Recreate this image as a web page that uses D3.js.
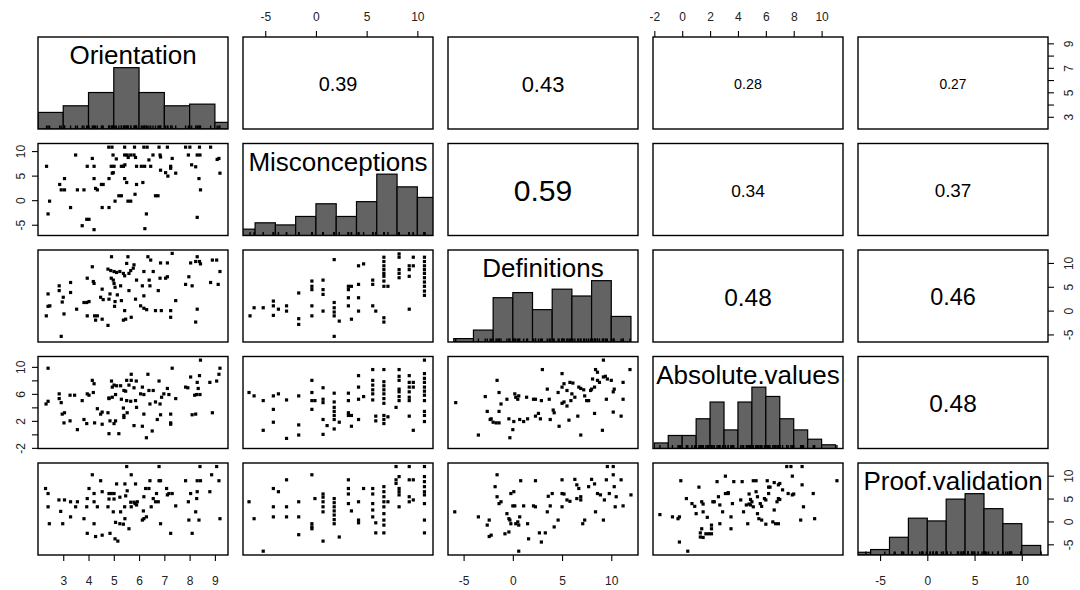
<!DOCTYPE html>
<html><head><meta charset="utf-8">
<script src="https://cdn.jsdelivr.net/npm/d3@7"></script>
<style>body{margin:0;background:#fff}svg{display:block}</style>
</head><body><svg id="c" width="1080" height="590"></svg>
<script>
// ---------------- DATA ----------------
const varNames = ["Orientation","Misconceptions","Definitions","Absolute.values","Proof.validation"];
const varMin = [2.28, -6.5, -5.87, -1.59, -6.59];
const varMax = [9.24, 10.85, 12.0, 11.03, 12.03];
const axisTicks = [[3,4,5,6,7,8,9],[-5,0,5,10],[-5,0,5,10],[-2,0,2,4,6,8,10],[-5,0,5,10]];
const rightLabelsOrientation = [3,5,7,9];
const leftLabelsAbsolute = [-2,2,6,10];
const histBreaks = [
  [2,3,4,5,6,7,8,9,10],
  [-8,-6,-4,-2,0,2,4,6,8,10,12],
  [-6,-4,-2,0,2,4,6,8,10,12],
  [-2,-1,0,1,2,3,4,5,6,7,8,9,10,11],
  [-8,-6,-4,-2,0,2,4,6,8,10,12]
];
const histCounts = [
  [10,14,22,37,22,14,15,4],
  [3,6,5,9,15,9,16,29,23,18],
  [2,7,26,29,19,31,27,36,15],
  [3,7,7,16,25,10,25,33,28,16,10,5,2],
  [2,4,13,27,25,41,45,34,23,7]
];
// upper triangle, row-major: (1,2),(1,3),(1,4),(1,5),(2,3),(2,4),(2,5),(3,4),(3,5),(4,5)
const correlations = [0.39,0.43,0.28,0.27,0.59,0.34,0.37,0.48,0.46,0.48];

const ptsOM = [[4.80,10.8],[4.93,10.8],[5.43,10.8],[5.82,10.8],[6.19,10.8],[6.32,10.8],[6.79,10.8],[7.12,10.8],[7.84,10.8],[8.01,10.8],[8.39,10.8],[8.83,10.8],
[3.49,9.2],[4.97,9.2],[5.43,9.2],[5.53,9.2],[5.67,9.2],[5.80,9.2],[6.55,9.2],[6.83,9.2],[7.95,9.2],[8.30,9.2],[8.41,9.2],
[4.15,8.5],[5.10,8.4],[5.57,8.7],[5.86,8.7],[6.39,8.2],[6.85,8.8],[7.31,8.5],[9.09,8.3],[9.16,8.5],
[2.34,6.9],[3.95,6.9],[4.22,6.9],[4.90,6.9],[5.01,6.9],[5.30,6.9],[5.38,6.9],[5.44,7.2],[5.90,6.9],[6.09,6.9],[6.22,6.9],[6.46,6.9],[7.25,6.9],[8.08,7.2],[8.24,6.8],
[4.94,5.5],[4.98,5.6],[6.85,6.1],[7.05,5.6],[7.14,4.9],[7.25,6.5],[7.45,5.5],[9.20,5.5],
[3.05,4.4],[4.22,4.4],[4.81,4.4],[5.43,4.4],[8.37,4.4],
[2.86,3.2],[4.51,3.2],[4.58,3.2],[5.51,3.6],[5.90,3.2],[6.15,3.6],
[2.92,2.1],[3.05,2.1],[3.56,2.1],[3.82,2.1],[4.28,2.4],[4.35,2.1],[8.43,2.1],
[5.20,0.9],[5.30,0.9],[5.84,1.2],[6.65,0.9],[6.75,0.9],
[2.46,-0.2],[5.05,-0.2],[5.56,-0.2],[5.67,-0.2],
[3.29,-1.5],[4.54,-1.5],[4.81,-1.5],
[2.40,-2.8],[6.29,-2.8],[8.30,-3.5],
[3.93,-3.9],[4.02,-3.9],[3.75,-5.2],[4.22,-6.0],[6.23,-5.8]];

const ptsOD = [[7.31,12.0],
[4.91,11.3],[5.56,11.3],[6.35,11.3],[8.30,11.3],
[6.46,10.6],[6.85,10.0],[7.12,10.0],[8.04,10.0],[8.24,10.3],[8.39,10.3],[8.43,9.8],[8.90,10.6],[9.07,10.6],
[4.15,9.2],[5.51,9.9],[5.80,9.6],[5.77,8.9],
[4.77,8.7],[4.88,8.4],[5.01,8.2],[5.11,8.0],[5.24,8.2],[5.38,7.8],[5.43,7.3],[5.60,7.8],[5.67,8.4],[6.19,8.2],[6.56,8.2],[7.05,6.8],[7.12,7.1],[9.20,8.2],
[3.95,6.8],[4.19,6.1],[4.22,5.7],[4.90,6.8],[4.98,6.4],[5.01,5.7],[5.90,6.4],[6.40,6.4],[6.83,6.8],[7.97,7.1],[8.83,5.9],[9.13,5.5],
[2.84,5.2],[3.29,5.9],[4.54,4.5],[5.05,4.9],[5.27,5.2],[6.13,5.2],[6.43,5.2],[7.84,5.5],[8.10,5.2],
[2.84,4.2],[3.29,3.8],[5.60,4.2],[6.76,4.2],
[2.40,3.5],[3.00,2.8],[4.48,2.8],[4.85,3.5],[5.14,3.3],[6.19,3.1],
[2.96,1.8],[3.82,1.7],[3.93,1.7],[4.02,1.9],[4.58,2.3],[4.81,2.4],[5.05,1.9],[5.30,2.1],[5.86,2.4],[7.45,2.1],
[2.40,0.9],[2.47,1.0],[3.53,0.3],[5.03,0.9],[5.43,0.0],[6.06,1.0],[6.19,0.5],[6.30,0.2],[6.65,0.0],[6.88,0.0],[7.25,0.0],[8.30,0.3],
[2.33,-1.1],[3.03,-0.7],[3.95,-1.1],[4.24,-1.1],[4.35,-1.1],[4.54,-1.8],[4.28,-2.0],[5.47,-1.8],[5.69,-1.4],[7.25,-1.4],
[4.77,-3.1],[5.38,-2.0],[8.24,-2.4],[2.92,-5.4]];

const ptsOA = [[8.43,11.0],
[2.40,9.8],[7.31,9.8],[9.20,9.8],
[5.69,8.9],[6.35,8.9],[8.04,8.5],[8.39,8.7],[9.16,8.9],
[4.15,8.0],[4.22,7.5],[4.91,7.9],[5.51,8.0],[5.69,8.0],[5.89,7.9],[6.79,7.9],[8.30,7.7],[8.80,7.7],[9.07,7.9],
[4.94,7.0],[5.01,7.3],[5.11,7.2],[5.27,7.2],[5.40,6.5],[5.60,7.3],[5.80,6.9],[6.13,7.0],[6.39,6.5],[6.56,6.5],[7.12,6.8],[7.84,7.0],[7.93,6.9],[8.34,6.8],
[2.84,6.0],[3.27,5.8],[3.45,5.8],[3.95,6.0],[4.02,5.8],[4.19,6.2],[4.81,5.4],[4.94,5.5],[5.07,5.9],[5.47,6.4],[6.06,6.0],[6.19,5.9],[6.98,6.0],[7.18,5.9],[6.89,5.5],
[2.32,4.5],[2.40,4.9],[2.84,5.3],[2.92,4.7],[3.75,5.0],[4.81,5.3],[5.30,5.2],[5.51,5.0],[5.67,4.9],[5.86,5.0],[6.43,4.5],[6.65,4.8],[6.83,4.5],[7.45,5.3],[8.20,5.8],[8.28,5.9],[8.41,5.9],
[4.35,3.8],[5.38,3.9],[5.90,4.0],
[2.96,3.0],[3.05,3.2],[4.48,3.0],[4.54,3.3],[4.77,3.2],[5.40,2.8],[5.53,3.2],[6.19,3.0],[6.85,2.9],[7.25,3.0],[8.10,2.9],[8.24,3.0],[8.90,3.2],
[3.03,1.7],[3.27,2.0],[3.82,2.2],[3.93,1.6],[4.24,1.7],[4.54,1.5],[4.85,2.0],[5.01,1.6],[5.07,2.0],[5.40,2.5],[5.80,1.3],[6.13,1.2],[6.72,2.2],[7.25,1.7],[7.25,1.5],
[3.56,0.7],[6.52,0.5],[4.81,0.1],[5.20,0.1],[6.29,-0.5]];

const ptsOP = [[5.51,12.0],[6.79,12.0],[8.41,12.0],[9.07,12.0],
[4.15,10.2],[5.69,10.2],[8.87,10.2],
[4.48,8.9],[5.11,8.2],[5.44,8.2],[5.86,8.2],[6.43,8.9],[6.79,8.9],[6.85,8.9],[7.84,8.9],[8.30,8.9],[8.43,8.9],[9.16,8.9],
[2.30,7.2],[2.40,6.1],[4.02,7.2],[4.22,6.1],[4.54,6.5],[4.81,6.1],[4.90,6.1],[5.01,6.1],[5.53,6.7],[6.26,7.2],[6.39,7.2],[6.69,6.1],[7.09,7.2],[7.18,6.1],[7.31,6.1],[8.04,6.1],[8.30,6.5],[8.80,6.5],
[2.83,4.7],[3.05,4.7],[3.29,4.3],[3.56,4.3],[3.95,5.0],[4.22,4.3],[4.81,4.9],[5.01,4.9],[5.24,5.3],[5.47,5.6],[5.67,4.2],[5.80,4.2],[5.93,4.3],[6.19,5.4],[6.56,5.0],[6.65,4.3],[6.76,4.3],[7.12,5.8],[7.95,4.3],[8.28,5.0],
[2.40,3.2],[2.90,2.2],[3.49,3.2],[3.93,3.2],[4.35,3.2],[4.77,3.2],[4.98,2.1],[5.27,2.1],[5.43,3.2],[5.69,3.2],[5.84,3.9],[5.90,3.6],[6.17,2.3],[6.48,3.2],[7.45,3.4],[8.24,2.1],
[3.29,1.0],[3.82,0.6],[6.13,0.3],[6.19,0.6],[6.29,1.0],[7.97,0.3],[8.37,0.3],[9.20,0.6],
[2.45,-0.5],[2.98,-0.5],[4.22,-0.5],[5.07,-0.2],[5.24,-0.5],[5.38,-0.6],[6.85,-0.5],
[5.60,-1.6],[5.44,0.6],
[3.95,-2.6],[4.28,-3.3],[4.54,-3.0],[4.85,-2.6],[7.25,-2.6],[8.10,-2.6],[5.05,-3.8],[5.16,-4.3]];

const ptsMD = [[1.8,10.7],[4.2,9.4],[4.7,9.8],
[6.7,11.2],[6.7,10.3],[6.7,9.4],[6.7,8.6],[6.7,7.8],
[8.2,11.9],[8.2,11.2],[8.2,8.6],[8.2,7.8],[8.2,6.9],
[9.2,9.4],[9.2,8.6],[9.2,7.2],[9.6,11.2],[9.6,9.4],
[10.7,11.2],[10.7,10.3],[10.7,9.4],[10.7,8.6],[10.7,7.8],[10.7,6.9],[10.7,6.0],[10.7,5.1],[10.7,4.1],[10.7,3.2],
[-0.4,6.2],[0.7,6.4],[6.7,7.2],[6.7,6.2],[6.7,5.1],[7.1,5.1],
[5.6,6.4],[5.6,5.5],[4.2,5.5],[3.2,5.1],[3.2,4.4],[3.5,5.1],[3.2,2.7],
[0.7,4.4],[0.7,3.4],[-0.4,4.4],[-0.4,5.1],[-1.7,3.7],
[1.8,1.7],[1.8,0.6],[4.2,2.7],[5.6,1.0],[3.2,1.0],[5.9,-0.1],[4.2,-0.1],[9.2,0.3],
[6.7,-1.5],[6.7,-2.4],[0.7,-0.1],[-0.4,1.0],[-0.4,-1.1],[-1.7,-1.7],[-1.7,-2.9],
[1.8,-0.3],[1.8,-1.1],[2.3,-2.2],[3.5,-1.8],
[-4.2,2.0],[-4.2,1.0],[-3.7,0.3],[-2.9,1.0],[-2.9,-0.1],
[-6.1,0.6],[-5.2,0.6],[-4.2,-1.0],[-6.5,-1.1],[1.8,-5.4]];

const ptsMA = [[-6.6,6.2],[-6.1,5.7],[-5.2,5.0],[-5.2,0.6],[-4.2,5.7],[-4.2,3.7],[-4.2,1.8],[-3.7,6.0],[-2.9,5.1],[-2.9,-0.6],[-1.7,5.7],[-1.7,1.4],[-1.7,-0.1],[-0.4,8.0],[-0.4,6.2],[-0.4,5.0],[-0.1,5.0],[-0.4,3.7],[0.7,6.9],[0.7,5.2],[0.7,4.7],[0.7,2.2],[0.7,0.0],[1.1,1.3],[1.8,6.1],[1.8,4.8],[1.8,4.0],[1.8,3.4],[1.8,2.8],[1.8,2.2],[1.8,0.8],[2.3,1.8],[3.2,6.1],[3.2,5.0],[3.2,3.2],[3.2,2.8],[3.5,2.8],[3.5,1.2],[4.2,8.7],[4.2,7.0],[4.2,5.2],[4.2,2.2],[4.7,5.6],[5.6,9.6],[5.6,8.0],[5.6,7.3],[5.6,6.6],[5.6,6.0],[5.6,5.1],[5.9,2.7],[5.9,2.0],[6.7,9.6],[6.7,7.8],[6.7,7.2],[6.7,6.6],[6.7,6.0],[6.7,5.3],[6.7,4.6],[6.7,2.8],[6.7,2.2],[6.7,1.6],[7.1,2.6],[7.9,4.0],[8.2,6.7],[8.2,6.3],[8.2,5.6],[8.2,5.0],[8.2,9.6],[8.2,8.6],[8.2,8.0],[9.2,8.7],[9.2,7.7],[9.2,7.0],[9.2,6.3],[9.2,5.5],[9.2,5.0],[9.2,2.7],[9.6,7.7],[9.6,7.0],[9.6,0.6],[10.7,11.0],[10.7,9.0],[10.7,8.3],[10.7,7.7],[10.7,7.0],[10.7,6.4],[10.7,5.8],[10.7,5.0],[10.7,3.4],[10.7,2.8],[10.7,1.9]];

const ptsMP = [[-6.6,4.3],[-6.1,0.6],[-5.2,-6.5],[-4.2,7.2],[-4.2,3.2],[-4.2,1.0],[-3.7,6.5],[-2.9,9.1],[-2.9,3.2],[-2.9,1.0],[-1.7,4.3],[-1.7,1.0],[-1.7,-2.9],[-0.4,10.2],[-0.4,-0.5],[-0.4,-1.2],[-0.4,-1.6],[-0.1,5.0],[0.7,6.0],[0.7,5.3],[0.7,4.3],[0.7,3.2],[0.7,2.1],[0.7,-4.3],[1.8,5.0],[1.8,4.1],[1.8,3.2],[1.8,2.3],[1.8,1.4],[1.8,0.4],[1.8,-0.5],[2.3,-3.4],[3.2,9.1],[3.2,7.2],[3.2,6.0],[3.2,3.9],[3.5,2.3],[4.2,4.3],[4.2,0.3],[4.2,-0.3],[4.7,7.2],[5.6,7.2],[5.6,6.0],[5.6,3.9],[5.6,2.5],[5.6,1.0],[5.9,-0.3],[5.9,-2.5],[6.7,7.6],[6.7,6.5],[6.7,5.4],[6.7,4.3],[6.7,3.2],[6.7,1.7],[6.7,0.3],[6.7,-0.8],[6.7,-2.5],[7.1,4.3],[7.9,12.0],[7.9,9.1],[7.9,8.3],[8.2,9.8],[8.2,7.2],[8.2,6.5],[8.2,5.8],[8.2,3.2],[9.2,12.0],[9.2,9.1],[9.2,5.4],[9.2,4.3],[9.6,9.1],[9.6,4.7],[10.7,12.0],[10.7,9.8],[10.7,8.7],[10.7,7.6],[10.7,6.5],[10.7,5.8],[10.7,3.9],[10.7,0.3],[10.7,-2.5]];

const ptsDA = [[-5.8,4.7],[-3.5,-0.1],[-2.8,5.6],[-2.6,3.4],[-1.6,8.0],[-2.2,2.3],[-2.3,2.2],[-2.0,1.8],[-1.7,1.7],[-1.4,1.7],[-1.4,6.2],[-1.2,4.5],[-1.4,3.4],[-0.6,5.2],[-0.4,2.3],[-0.3,-0.5],[0.0,0.7],[0.2,6.0],[0.3,5.5],[0.6,5.7],[0.5,5.2],[0.1,1.9],[0.7,2.2],[1.1,1.9],[1.5,2.3],[1.4,5.5],[2.1,5.2],[2.3,5.2],[2.3,2.7],[2.6,3.1],[2.8,2.3],[3.0,9.6],[2.9,5.0],[3.5,6.7],[3.7,5.2],[3.8,2.2],[4.1,3.6],[4.2,3.2],[4.7,1.2],[4.6,6.2],[5.0,9.0],[5.0,7.0],[5.2,7.5],[5.5,6.5],[5.8,7.7],[6.1,7.6],[6.0,6.0],[6.3,5.5],[5.0,4.6],[5.2,4.8],[5.5,4.2],[5.7,2.1],[5.9,5.0],[6.6,2.7],[6.7,7.0],[6.9,6.8],[7.2,6.6],[6.9,-0.1],[7.3,5.7],[7.5,5.0],[7.7,5.0],[7.9,6.5],[8.0,6.7],[8.3,7.0],[8.1,8.2],[8.3,3.1],[8.6,8.0],[8.8,7.7],[8.4,9.6],[8.6,9.2],[9.2,8.5],[9.4,8.6],[9.6,8.2],[9.1,0.6],[9.5,5.2],[9.2,11.0],[10.0,8.0],[10.2,6.3],[10.3,6.7],[10.2,3.3],[11.0,2.7],[11.2,7.7],[11.2,5.2],[11.9,9.6]];

const ptsDP = [[-5.9,2.1],[-3.5,1.0],[-2.6,-0.8],[-2.4,0.3],[-1.8,7.6],[-1.6,5.4],[-1.4,3.9],[-1.6,10.2],[-1.2,4.3],[-0.6,1.7],[-0.4,0.6],[-0.3,0.3],[-0.2,-0.5],[-0.2,6.1],[0.1,6.5],[0.3,-0.5],[0.5,-0.1],[0.7,1.0],[0.6,-0.8],[1.5,-0.5],[-0.8,-2.7],[-0.4,-2.3],[-2.2,-3.0],[-2.4,-3.3],[0.0,3.4],[0.2,3.4],[0.6,-6.5],[0.8,8.9],[1.1,3.4],[1.6,-3.8],[2.3,8.9],[2.1,3.4],[2.3,3.2],[2.7,-2.5],[3.3,-2.5],[2.9,-4.5],[3.5,2.1],[3.6,5.5],[3.8,3.4],[4.0,6.1],[4.2,-1.2],[4.6,0.3],[5.0,6.1],[5.2,6.0],[5.0,9.1],[5.0,3.2],[5.5,4.7],[5.8,4.4],[6.3,9.2],[6.5,8.0],[6.7,7.2],[6.9,5.4],[6.5,5.0],[6.9,4.7],[7.1,-0.5],[7.3,0.3],[7.7,7.6],[8.0,9.2],[8.3,8.2],[8.4,2.1],[8.6,6.1],[8.9,5.8],[9.2,0.3],[9.3,4.7],[9.5,9.1],[9.6,12.0],[10.2,12.0],[9.8,6.1],[10.2,10.2],[10.3,7.6],[10.5,5.4],[10.4,3.2],[11.2,3.4],[11.0,9.1],[12.0,5.8]];

const ptsAP = [[-1.6,1.5],[-0.7,1.0],[-0.3,0.6],[-0.2,1.0],[-0.2,-4.5],[-0.1,8.9],[0.3,5.0],[0.4,-6.5],[0.7,3.9],[0.9,3.3],[1.0,1.7],[1.2,7.5],[1.3,-2.5],[1.3,-3.4],[1.5,-3.5],[1.7,-2.7],[1.9,-2.7],[2.1,-2.7],[1.4,-1.6],[1.4,4.3],[1.5,3.8],[1.5,2.1],[1.8,0.9],[2.1,-1.6],[2.1,-0.8],[2.2,4.3],[2.3,4.3],[2.5,8.7],[2.6,5.4],[2.7,-0.5],[2.7,3.6],[2.9,2.1],[3.1,9.9],[3.1,6.1],[3.3,6.1],[3.3,6.3],[3.5,1.0],[3.5,-1.6],[3.6,3.9],[3.7,8.7],[4.2,4.7],[4.3,8.7],[4.4,2.1],[4.6,3.6],[4.7,-0.5],[4.8,6.0],[4.9,4.8],[5.0,4.3],[4.8,3.8],[4.9,3.6],[5.1,3.2],[5.1,8.9],[5.3,8.9],[5.3,6.5],[5.4,5.4],[5.4,1.7],[5.5,0.6],[5.7,0.3],[5.6,3.9],[5.7,3.3],[6.0,-0.6],[6.1,8.9],[6.2,7.5],[6.3,7.5],[5.9,5.0],[6.0,4.7],[6.2,6.1],[6.6,2.5],[6.5,-0.1],[6.7,-0.5],[6.9,-0.5],[6.8,4.3],[6.9,5.0],[7.0,4.8],[6.6,8.5],[6.9,8.0],[7.0,8.3],[7.2,6.9],[7.5,12.0],[7.8,12.0],[7.6,6.1],[7.9,5.8],[8.0,6.0],[7.9,9.9],[8.6,12.0],[8.5,0.3],[8.6,8.0],[8.7,3.2],[9.4,6.1],[9.5,0.6],[11.1,8.9]];

// ---------------- LAYOUT ----------------
const colLeft0 = 38, colPitch = 205, panelW = 190;
const rowTop0 = 37, rowPitch = 106.5, panelH = 92;
const FONT = "'Liberation Sans', Arial, Helvetica, sans-serif";
const nV = varNames.length;
const colX = j => colLeft0 + j * colPitch;
const rowY = i => rowTop0 + i * rowPitch;
function dom(v) { const r = varMax[v] - varMin[v]; return [varMin[v] - 0.04 * r, varMax[v] + 0.04 * r]; }
const xS = d3.range(nV).map(v => d3.scaleLinear().domain(dom(v)).range([colX(v), colX(v) + panelW]));
const yS = d3.range(nV).map(v => d3.scaleLinear().domain(dom(v)).range([rowY(v) + panelH, rowY(v)]));

const svg = d3.select("#c");
svg.append("rect").attr("width", 1080).attr("height", 590).attr("fill", "#fff");

// ---------------- LOWER PANELS (scatter) ----------------
const lowerPanels = [
  {row:1, col:0, pts:ptsOM},
  {row:2, col:0, pts:ptsOD}, {row:2, col:1, pts:ptsMD},
  {row:3, col:0, pts:ptsOA}, {row:3, col:1, pts:ptsMA}, {row:3, col:2, pts:ptsDA},
  {row:4, col:0, pts:ptsOP}, {row:4, col:1, pts:ptsMP}, {row:4, col:2, pts:ptsDP}, {row:4, col:3, pts:ptsAP}
];
const ps = 3.2;
lowerPanels.forEach(p => {
  svg.append("g").selectAll("rect").data(p.pts).join("rect")
    .attr("x", d => xS[p.col](d[0]) - ps / 2)
    .attr("y", d => yS[p.row](d[1]) - ps / 2)
    .attr("width", ps).attr("height", ps).attr("fill", "#000");
});

// ---------------- DIAGONAL (histograms + rug + labels) ----------------
const rugs = [
  ptsOM.map(d => d[0]), ptsMD.map(d => d[0]), ptsDA.map(d => d[0]),
  ptsAP.map(d => d[0]), ptsAP.map(d => d[1])
];
d3.range(nV).forEach(v => {
  const cid = "clip" + v;
  svg.append("clipPath").attr("id", cid).append("rect")
    .attr("x", colX(v)).attr("y", rowY(v)).attr("width", panelW).attr("height", panelH);
  const hy = d3.scaleLinear().domain([0, 1.5]).range([rowY(v) + panelH, rowY(v)]);
  const maxC = d3.max(histCounts[v]);
  const g = svg.append("g").attr("clip-path", `url(#${cid})`);
  g.selectAll("rect").data(histCounts[v]).join("rect")
    .attr("x", (d, k) => xS[v](histBreaks[v][k]))
    .attr("width", (d, k) => xS[v](histBreaks[v][k + 1]) - xS[v](histBreaks[v][k]))
    .attr("y", d => hy(d / maxC))
    .attr("height", d => hy(0) - hy(d / maxC))
    .attr("fill", "#636363").attr("stroke", "#000").attr("stroke-width", 1.2);
  g.selectAll("line").data(rugs[v]).join("line")
    .attr("x1", d => xS[v](d)).attr("x2", d => xS[v](d))
    .attr("y1", hy(0)).attr("y2", hy(0) - 3.5)
    .attr("stroke", "#000").attr("stroke-width", 1.4);
  svg.append("text")
    .attr("x", colX(v) + panelW / 2).attr("y", rowY(v) + 27)
    .attr("text-anchor", "middle").attr("font-family", FONT).attr("font-size", 26)
    .attr("fill", "#000").text(varNames[v]);
});

// ---------------- UPPER PANELS (correlations) ----------------
let k = 0;
for (let i = 0; i < nV; i++) for (let j = i + 1; j < nV; j++) {
  const r = correlations[k++];
  const fs = 51 * Math.abs(r);
  svg.append("text")
    .attr("x", colX(j) + panelW / 2)
    .attr("y", rowY(i) + panelH / 2 + 0.36 * fs + 1)
    .attr("text-anchor", "middle").attr("font-family", FONT).attr("font-size", fs)
    .attr("fill", "#000").text(d3.format(".2f")(r));
}

// ---------------- PANEL BOXES ----------------
for (let i = 0; i < nV; i++) for (let j = 0; j < nV; j++) {
  svg.append("rect").attr("x", colX(j)).attr("y", rowY(i))
    .attr("width", panelW).attr("height", panelH)
    .attr("fill", "none").attr("stroke", "#000").attr("stroke-width", 1.4);
}

// ---------------- AXES ----------------
const fmt = d => (d < 0 ? "-" + Math.abs(d) : String(d));
const tickFS = 12, tickCol = "#222";
function styleAxis(g) {
  g.select(".domain").remove();
  g.selectAll(".tick line").attr("stroke", "#000").attr("stroke-width", 1.1);
  g.selectAll(".tick text").attr("font-family", FONT).attr("font-size", tickFS).attr("fill", tickCol);
}
// top axes: columns 2 and 4
[1, 3].forEach(v => {
  const g = svg.append("g").attr("transform", `translate(0,${rowY(0)})`)
    .call(d3.axisTop(xS[v]).tickValues(axisTicks[v]).tickFormat(fmt).tickSize(6));
  styleAxis(g);
  g.selectAll(".tick text").attr("y", -(rowY(0) - 20.5)).attr("dy", null);
});
// bottom axes: columns 1,3,5
[0, 2, 4].forEach(v => {
  const y0 = rowY(4) + panelH;
  const g = svg.append("g").attr("transform", `translate(0,${y0})`)
    .call(d3.axisBottom(xS[v]).tickValues(axisTicks[v]).tickFormat(fmt).tickSize(6));
  styleAxis(g);
  g.selectAll(".tick text").attr("y", 584.5 - y0).attr("dy", null);
});
// left axes: rows 2 and 4
[1, 3].forEach(v => {
  const lab = v === 3 ? leftLabelsAbsolute : axisTicks[v];
  const g = svg.append("g").attr("transform", `translate(${colX(0)},0)`)
    .call(d3.axisLeft(yS[v]).tickValues(axisTicks[v]).tickFormat(d => lab.includes(d) ? fmt(d) : "").tickSize(6));
  styleAxis(g);
  g.selectAll(".tick text").attr("transform", "rotate(-90)")
    .attr("x", 0).attr("y", -13.5).attr("dy", null).attr("text-anchor", "middle");
});
// right axes: rows 1,3,5
[0, 2, 4].forEach(v => {
  const lab = v === 0 ? rightLabelsOrientation : axisTicks[v];
  const xr = colX(4) + panelW;
  const g = svg.append("g").attr("transform", `translate(${xr},0)`)
    .call(d3.axisRight(yS[v]).tickValues(axisTicks[v]).tickFormat(d => lab.includes(d) ? fmt(d) : "").tickSize(6));
  styleAxis(g);
  g.selectAll(".tick text").attr("transform", "rotate(-90)")
    .attr("x", 0).attr("y", 24.5).attr("dy", null).attr("text-anchor", "middle");
});
</script>
</body></html>
